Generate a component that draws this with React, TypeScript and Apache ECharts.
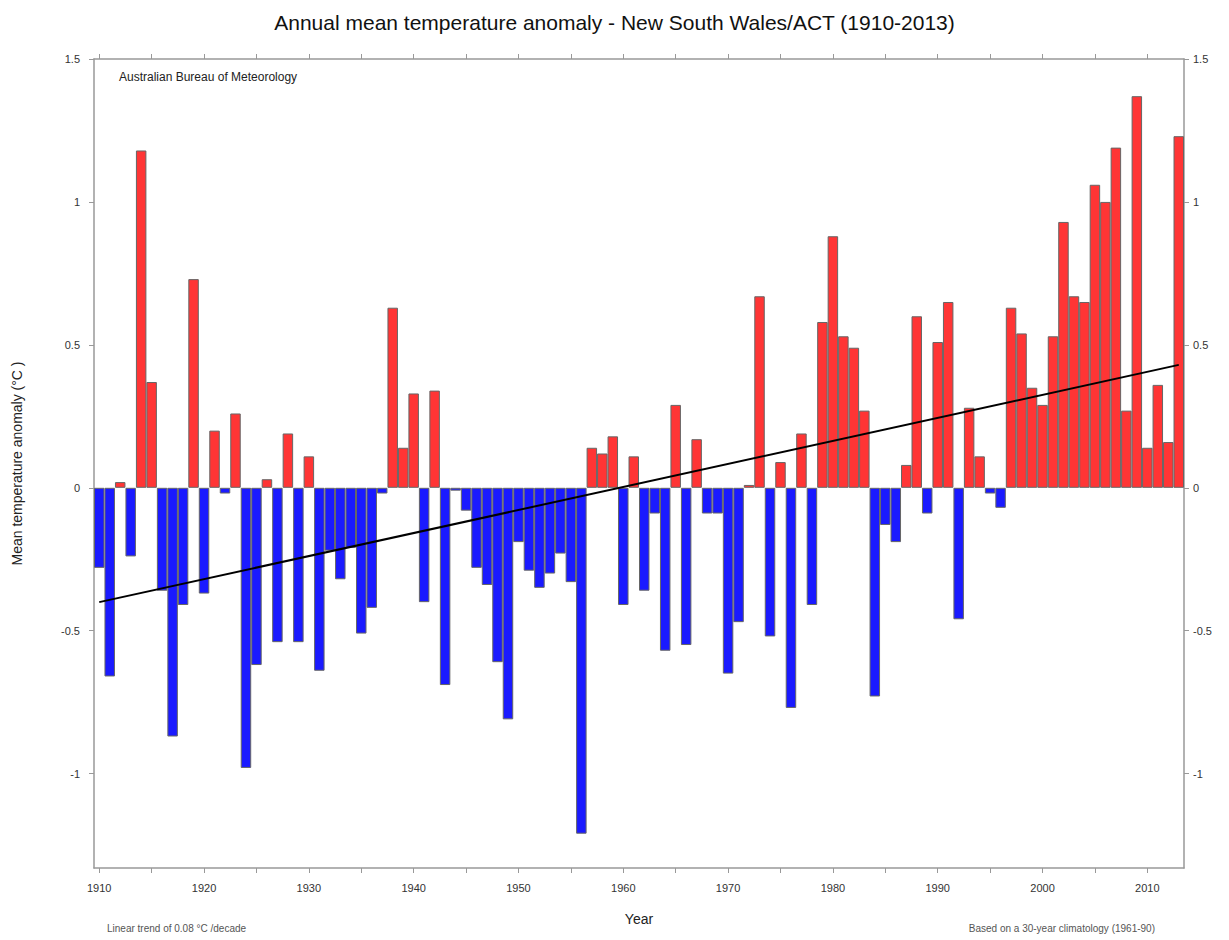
import React, { useEffect, useRef } from "react";
import * as echarts from "echarts";

const years: string[] = [];
for (let y = 1910; y <= 2013; y++) years.push(String(y));

const anomalies: number[] = [
  -0.28, -0.66, 0.02, -0.24, 1.18, 0.37, -0.36, -0.87, -0.41, 0.73,
  -0.37, 0.2, -0.02, 0.26, -0.98, -0.62, 0.03, -0.54, 0.19, -0.54,
  0.11, -0.64, -0.22, -0.32, -0.21, -0.51, -0.42, -0.02, 0.63, 0.14,
  0.33, -0.4, 0.34, -0.69, -0.01, -0.08, -0.28, -0.34, -0.61, -0.81,
  -0.19, -0.29, -0.35, -0.3, -0.23, -0.33, -1.21, 0.14, 0.12, 0.18,
  -0.41, 0.11, -0.36, -0.09, -0.57, 0.29, -0.55, 0.17, -0.09, -0.09,
  -0.65, -0.47, 0.01, 0.67, -0.52, 0.09, -0.77, 0.19, -0.41, 0.58,
  0.88, 0.53, 0.49, 0.27, -0.73, -0.13, -0.19, 0.08, 0.6, -0.09,
  0.51, 0.65, -0.46, 0.28, 0.11, -0.02, -0.07, 0.63, 0.54, 0.35,
  0.29, 0.53, 0.93, 0.67, 0.65, 1.06, 1.0, 1.19, 0.27, 1.37,
  0.14, 0.36, 0.16, 1.23,
];

const trendYears: string[] = ["1910", "2013"];
const trendValues: number[] = [-0.4, 0.43];

const yTicks: number[] = [-1, -0.5, 0, 0.5, 1, 1.5];

const NARROW = "'Liberation Sans Narrow', 'Liberation Sans', Arial, sans-serif";
const SANS = "'Liberation Sans', Arial, sans-serif";

export default function App() {
  const ref = useRef<HTMLDivElement>(null);
  useEffect(() => {
    if (!ref.current) return;
    const chart = echarts.init(ref.current, undefined, { renderer: "svg" });
    const axisColor = "#999";
    const yAxisCommon = {
      type: "value" as const,
      min: -1.33,
      max: 1.5,
      splitLine: { show: false },
      axisLine: { show: true, onZero: false, lineStyle: { color: axisColor, width: 1.5 } },
      axisTick: {
        show: true,
        length: 5,
        lineStyle: { color: axisColor },
        customValues: yTicks,
      },
    };
    const xTick = {
      show: true,
      alignWithLabel: true,
      length: 5,
      interval: (i: number) => i % 5 === 0,
      lineStyle: { color: axisColor },
    };
    chart.setOption({
      animation: false,
      backgroundColor: "#fff",
      title: {
        text: "Annual mean temperature anomaly - New South Wales/ACT (1910-2013)",
        left: "center",
        top: 7,
        textStyle: {
          fontSize: 21,
          fontWeight: "normal",
          color: "#111",
          fontFamily: NARROW,
        },
      },
      grid: { left: 94, right: 45, top: 59, bottom: 72 },
      xAxis: [
        {
          type: "category",
          data: years,
          position: "bottom",
          boundaryGap: true,
          name: "Year",
          nameLocation: "middle",
          nameGap: 44,
          nameTextStyle: { fontSize: 14, color: "#222", fontFamily: SANS },
          axisLine: { show: true, onZero: false, lineStyle: { color: axisColor, width: 1.5 } },
          axisTick: xTick,
          axisLabel: {
            interval: (i: number) => i % 10 === 0,
            fontSize: 11,
            color: "#333",
            margin: 14,
            fontFamily: SANS,
          },
          splitLine: { show: false },
        },
        {
          type: "category",
          data: years,
          position: "top",
          boundaryGap: true,
          axisLine: { show: true, onZero: false, lineStyle: { color: axisColor, width: 1.5 } },
          axisTick: xTick,
          axisLabel: { show: false },
          splitLine: { show: false },
        },
      ],
      yAxis: [
        {
          ...yAxisCommon,
          position: "left",
          name: "Mean temperature anomaly (°C )",
          nameLocation: "middle",
          nameGap: 70,
          nameRotate: 90,
          nameTextStyle: { fontSize: 14, color: "#222", fontFamily: SANS },
          axisLabel: {
            customValues: yTicks,
            fontSize: 11,
            color: "#333",
            margin: 14,
            fontFamily: SANS,
          },
        },
        {
          ...yAxisCommon,
          position: "right",
          axisLabel: {
            customValues: yTicks,
            fontSize: 11,
            color: "#333",
            margin: 9,
            fontFamily: SANS,
          },
        },
      ],
      series: [
        {
          type: "bar",
          xAxisIndex: 0,
          yAxisIndex: 0,
          data: anomalies,
          barWidth: "100%",
          barCategoryGap: "0%",
          itemStyle: {
            color: (p: any) => (p.value >= 0 ? "#ff3535" : "#1a1aff"),
            borderColor: "#666",
            borderWidth: 1,
          },
          emphasis: { disabled: true },
        },
        {
          type: "line",
          xAxisIndex: 0,
          yAxisIndex: 0,
          data: trendYears.map((y, i) => [y, trendValues[i]]),
          symbol: "none",
          lineStyle: { color: "#000", width: 2 },
          z: 5,
        },
      ],
      graphic: [
        {
          type: "text",
          left: 119,
          top: 71,
          style: {
            text: "Australian Bureau of Meteorology",
            fontSize: 12,
            fill: "#222",
            fontFamily: NARROW,
          },
        },
        {
          type: "text",
          left: 107,
          top: 923,
          style: {
            text: "Linear trend of 0.08 °C /decade",
            fontSize: 10,
            fill: "#555",
            fontFamily: NARROW,
          },
        },
        {
          type: "text",
          right: 74,
          top: 923,
          style: {
            text: "Based on a 30-year climatology (1961-90)",
            fontSize: 10,
            fill: "#555",
            fontFamily: NARROW,
          },
        },
      ],
    });
    return () => chart.dispose();
  }, []);
  return (
    <div
      ref={ref}
      style={{ position: "absolute", left: 0, top: 0, width: 1229, height: 940 }}
    />
  );
}
